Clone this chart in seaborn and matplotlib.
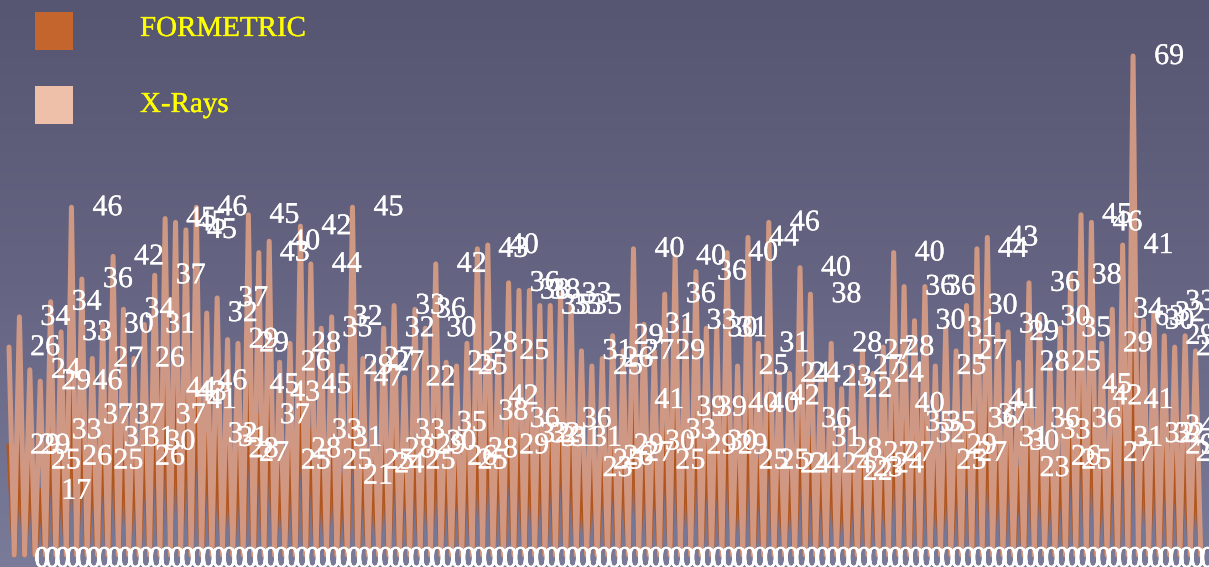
import numpy as np
import pandas as pd
import seaborn as sns
import matplotlib
matplotlib.use("Agg")
import matplotlib.pyplot as plt
import matplotlib.patheffects as pe
from matplotlib.colors import LinearSegmentedColormap
from matplotlib.patches import Rectangle

series_names = ["FORMETRIC", "X-Rays"]

formetric = [
    29, 29, 25, 17, 33, 26, 46, 37, 25, 31,
    37, 31, 26, 30, 37, 44, 43, 41, 46, 32,
    31, 28, 27, 45, 37, 43, 25, 28, 45, 33,
    25, 31, 21, 47, 25, 24, 28, 33, 25, 29,
    30, 35, 26, 25, 28, 38, 42, 29, 36, 32,
    32, 31, 31, 36, 31, 23, 25, 26, 29, 27,
    41, 30, 25, 33, 39, 29, 39, 30, 29, 40,
    25, 40, 25, 42, 24, 24, 36, 31, 24, 28,
    22, 23, 27, 24, 27, 40, 35, 32, 35, 25,
    29, 27, 36, 37, 41, 31, 30, 23, 36, 33,
    26, 25, 36, 45, 42, 27, 31, 41, 63, 32,
    32, 29, 27, 29, 26,
]

xrays = [
    26, 34, 24, 29, 34, 33, 46, 36, 27, 30,
    42, 34, 26, 31, 37, 45, 45, 45, 46, 32,
    37, 29, 29, 45, 43, 40, 26, 28, 42, 44,
    35, 32, 29, 45, 27, 27, 32, 33, 22, 36,
    30, 42, 25, 25, 28, 43, 40, 25, 36, 38,
    38, 35, 35, 33, 35, 31, 25, 26, 29, 27,
    40, 31, 29, 36, 40, 33, 36, 30, 31, 40,
    25, 44, 31, 46, 24, 24, 40, 38, 23, 28,
    22, 27, 27, 24, 28, 40, 36, 30, 36, 25,
    31, 27, 30, 44, 43, 30, 29, 28, 36, 30,
    25, 35, 38, 45, 46, 29, 34, 41, 69, 30,
    32, 29, 28, 29, 28,
]

# Two stray values printed at the right edge, with no spike of their own.
edge_formetric = 34
edge_xrays = 33
edge_slot = 111

WIDTH, HEIGHT, DPI = 1209, 567, 100
SERIF = "Liberation Serif"
PX = 72 / DPI  # one pixel in points

sns.set_theme(style="white")
plt.rcParams["font.family"] = [SERIF, "DejaVu Sans"]

# Every reading is followed by a blank zero reading, which gives the zigzag.
n = len(formetric)
pos = np.arange(2 * n)
low = np.zeros(2 * n)
low[::2] = formetric
top = np.zeros(2 * n)
top[::2] = np.array(formetric) + np.array(xrays)
frame = pd.DataFrame({"pos": pos, "low": low, "top": top})

fig = plt.figure(figsize=(WIDTH / DPI, HEIGHT / DPI), dpi=DPI)
ax = fig.add_axes([0, 0, 1, 1])

# Scale: 5.204 px per slot starting at 9 px; 3.78 px per unit with zero at 555 px.
x_step, x_start = 5.204, 9.0
y_unit, y_zero = 3.78, 555.0
x_limits = (-x_start / x_step, (WIDTH - x_start) / x_step)
y_limits = ((y_zero - HEIGHT) / y_unit, y_zero / y_unit)
ax.set_xlim(*x_limits)
ax.set_ylim(*y_limits)
ax.set_axis_off()

# Slate backdrop, darker at the top and lighter towards the bottom.
backdrop = LinearSegmentedColormap.from_list(
    "slate", ["#565672", "#656583", "#7A7A99"]
)
ax.imshow(
    np.linspace(0, 1, 256).reshape(-1, 1),
    cmap=backdrop,
    extent=[*x_limits, *y_limits],
    aspect="auto",
    zorder=0,
)

line_style = dict(
    estimator=None, sort=False, ax=ax, legend=False,
    solid_joinstyle="round", solid_capstyle="round",
    linewidth=5.0 * PX,
)
sns.lineplot(data=frame, x="pos", y="low", color="#B0561F", zorder=2, **line_style)
sns.lineplot(data=frame, x="pos", y="top", color="#D39A84", alpha=0.97, zorder=3, **line_style)
ax.set_xlim(*x_limits)
ax.set_ylim(*y_limits)
ax.set_xlabel("")
ax.set_ylabel("")

label_heft = [pe.withStroke(linewidth=0.18, foreground="white")]
zero_heft = [pe.withStroke(linewidth=0.45, foreground="white")]


def value_label(slot, level, text, dx=36, dy=2, size=30, effects=label_heft):
    ax.annotate(
        str(text), xy=(slot, level), xytext=(dx, dy), textcoords="offset pixels",
        ha="center", va="center_baseline", color="white", fontsize=size * PX,
        family=SERIF, zorder=5, annotation_clip=False, path_effects=effects,
    )


for i in range(n):
    value_label(2 * i, formetric[i], formetric[i])
    value_label(2 * i, formetric[i] + xrays[i], xrays[i])

value_label(2 * edge_slot, edge_formetric, edge_formetric)
value_label(2 * edge_slot, edge_formetric + edge_xrays, edge_xrays)

# Zero readings of both series print on top of each other along the bottom.
for slot in range(-1, 2 * n, 2):
    if x_start + x_step * slot + 38 < WIDTH + 8:
        for _ in series_names:
            value_label(slot, 0, 0, dx=38, dy=-2, size=30, effects=zero_heft)

# Hand-placed key with large square swatches.
key_rows = [(12, "#C4652D", 26), (86, "#EEC0A9", 102)]
for (box_top, colour, text_y), name in zip(key_rows, series_names):
    fig.add_artist(Rectangle(
        (35 / WIDTH, 1 - (box_top + 38) / HEIGHT), 38 / WIDTH, 38 / HEIGHT,
        transform=fig.transFigure, facecolor=colour, edgecolor="none", zorder=6,
    ))
    fig.text(
        140 / WIDTH, 1 - text_y / HEIGHT, name, color="#FFFF00",
        fontsize=29 * PX, family=SERIF, ha="left", va="center_baseline", zorder=6,
        path_effects=[pe.withStroke(linewidth=0.25, foreground="#FFFF00")],
    )

fig.savefig("out.png", dpi=DPI)
